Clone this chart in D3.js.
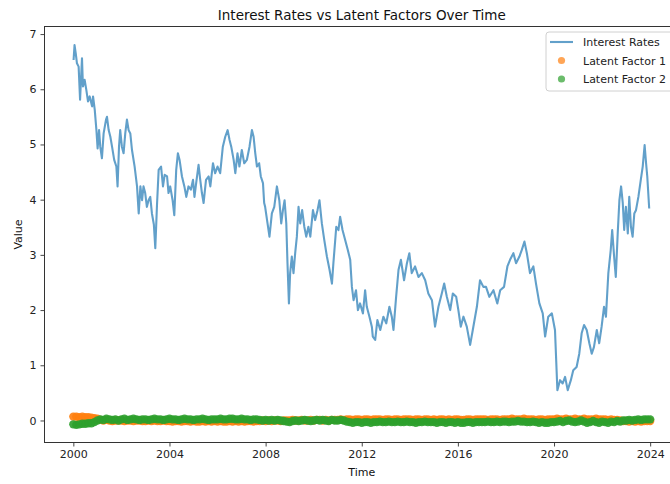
<!DOCTYPE html>
<html>
<head>
<meta charset="utf-8">
<script src="https://cdn.jsdelivr.net/npm/d3@7"></script>
<style>
  html, body { margin: 0; padding: 0; background: #fff; }
  svg { display: block; font-family: "DejaVu Sans", sans-serif; }
</style>
</head>
<body>
<svg id="chart" width="670" height="484"></svg>
<script>
// Interest rate series: time (decimal year) and rate
const rateTime = [
  2000.01,2000.05,2000.10,2000.15,2000.22,2000.28,2000.33,2000.36,2000.40,2000.47,
  2000.54,2000.61,2000.68,2000.78,2000.82,2000.89,2000.96,2001.01,2001.07,2001.12,
  2001.19,2001.26,2001.36,2001.40,2001.47,2001.54,2001.61,2001.70,2001.79,2001.84,
  2001.90,2001.95,2002.02,2002.09,2002.16,2002.23,2002.30,2002.37,2002.44,2002.55,
  2002.65,2002.72,2002.79,2002.86,2002.92,2002.99,2003.06,2003.13,2003.20,2003.27,
  2003.35,2003.41,2003.48,2003.55,2003.65,2003.73,2003.80,2003.90,2003.96,2004.03,
  2004.13,2004.20,2004.28,2004.35,2004.42,2004.52,2004.62,2004.70,2004.79,2004.89,
  2004.98,2005.04,2005.11,2005.21,2005.28,2005.35,2005.42,2005.52,2005.63,2005.70,
  2005.81,2005.90,2006.00,2006.11,2006.22,2006.32,2006.42,2006.50,2006.57,2006.67,
  2006.74,2006.83,2006.91,2007.01,2007.11,2007.22,2007.33,2007.43,2007.50,2007.57,
  2007.64,2007.73,2007.80,2007.89,2007.94,2007.98,2008.08,2008.16,2008.26,2008.36,
  2008.47,2008.57,2008.65,2008.72,2008.79,2008.86,2008.91,2008.97,2009.02,2009.09,
  2009.16,2009.23,2009.30,2009.37,2009.44,2009.52,2009.61,2009.69,2009.78,2009.86,
  2009.97,2010.06,2010.16,2010.24,2010.34,2010.44,2010.55,2010.66,2010.76,2010.82,
  2010.94,2011.03,2011.10,2011.20,2011.31,2011.42,2011.52,2011.59,2011.66,2011.76,
  2011.84,2011.93,2012.05,2012.14,2012.21,2012.32,2012.42,2012.46,2012.56,2012.65,
  2012.77,2012.90,2013.02,2013.15,2013.25,2013.32,2013.43,2013.53,2013.63,2013.76,
  2013.88,2013.98,2014.08,2014.22,2014.36,2014.50,2014.64,2014.77,2014.92,2015.05,
  2015.19,2015.33,2015.43,2015.54,2015.68,2015.79,2015.93,2016.02,2016.12,2016.23,
  2016.37,2016.51,2016.62,2016.79,2016.92,2017.06,2017.17,2017.31,2017.48,2017.64,
  2017.76,2017.92,2018.06,2018.17,2018.31,2018.42,2018.56,2018.66,2018.77,2018.87,
  2019.00,2019.14,2019.25,2019.39,2019.53,2019.63,2019.76,2019.91,2020.04,2020.14,
  2020.25,2020.36,2020.46,2020.57,2020.70,2020.80,2020.94,2021.05,2021.15,2021.25,
  2021.36,2021.47,2021.57,2021.66,2021.78,2021.88,2021.98,2022.08,2022.16,2022.26,
  2022.36,2022.42,2022.50,2022.57,2022.65,2022.72,2022.79,2022.86,2022.92,2022.99,
  2023.07,2023.13,2023.20,2023.27,2023.34,2023.41,2023.51,2023.61,2023.69,2023.77,
  2023.83,2023.88,2023.96
];
const rateValue = [
  6.53,6.80,6.65,6.47,6.41,5.81,6.29,6.56,6.05,6.17,
  5.99,5.78,5.87,5.69,5.87,5.63,5.26,4.93,5.26,4.96,
  4.75,5.20,5.45,5.50,5.26,5.14,4.96,4.72,4.60,4.24,
  4.96,5.26,4.96,4.84,5.20,5.45,5.26,5.20,4.90,4.60,
  4.24,3.75,4.24,3.99,4.24,4.12,3.87,3.99,4.05,3.75,
  3.55,3.12,3.90,4.54,4.60,4.24,4.45,4.42,4.12,4.24,
  3.99,3.72,4.54,4.84,4.72,4.42,4.24,4.05,4.24,4.18,
  4.36,4.05,4.30,4.63,4.36,4.12,3.94,4.36,4.42,4.24,
  4.66,4.48,4.60,4.48,4.96,5.14,5.26,5.08,4.96,4.72,
  4.48,4.84,4.60,4.90,4.66,4.72,4.96,5.26,5.14,4.84,
  4.60,4.66,4.42,4.30,3.94,3.87,3.57,3.33,3.75,3.87,
  4.24,3.99,3.57,3.81,3.99,3.57,2.85,2.12,2.67,2.97,
  2.67,3.03,3.33,3.87,3.57,3.81,3.51,3.33,3.51,3.33,
  3.81,3.63,3.81,3.99,3.57,3.27,2.97,2.73,2.48,2.85,
  3.51,3.45,3.69,3.45,3.27,3.09,2.91,2.42,2.18,2.36,
  2.00,2.12,1.94,2.36,2.06,1.88,1.70,1.52,1.46,1.82,
  1.64,1.88,1.76,2.06,1.88,1.64,2.24,2.73,2.91,2.54,
  2.85,3.03,2.67,2.79,2.60,2.67,2.54,2.30,2.18,1.70,
  2.06,2.30,2.48,2.24,2.00,2.30,2.24,2.00,1.70,1.88,
  1.70,1.37,1.64,2.06,2.54,2.42,2.42,2.24,2.36,2.12,
  2.36,2.42,2.79,2.91,3.03,2.85,2.97,3.09,3.24,3.03,
  2.67,2.79,2.48,2.12,1.94,1.52,1.88,1.94,1.64,0.55,
  0.73,0.67,0.79,0.55,0.73,0.91,0.97,1.21,1.58,1.73,
  1.64,1.40,1.21,1.33,1.64,1.40,1.70,2.06,1.88,2.67,
  3.09,3.45,2.97,2.60,3.39,3.99,4.24,3.94,3.45,3.87,
  3.39,4.05,3.51,3.33,3.75,3.81,4.05,4.36,4.60,4.99,
  4.66,4.42,3.84
];

// Latent factors, sampled every eighth of a year from 2000 to 2024
const latentStartYear = 2000;
const latentStepYears = 0.125;
const latentFactor1 = [
  0.07,0.07,0.06,0.07,0.06,0.06,0.05,0.04,
  0.03,0.01,0.00,0.01,0.00,-0.01,0.00,0.00,
  0.00,-0.01,0.00,0.00,-0.01,0.00,0.00,-0.01,
  -0.01,0.00,-0.01,0.00,-0.01,-0.01,0.00,-0.01,
  -0.01,-0.02,-0.01,-0.01,-0.02,-0.01,-0.01,-0.02,
  -0.01,-0.02,-0.02,-0.01,-0.02,-0.01,-0.02,-0.01,
  -0.02,-0.01,-0.02,-0.02,-0.01,-0.02,-0.01,-0.02,
  -0.01,-0.02,-0.01,-0.01,-0.02,-0.01,-0.01,0.00,
  -0.01,0.00,-0.01,0.00,0.00,-0.01,0.00,0.00,
  0.00,0.01,0.00,0.00,0.01,0.00,0.00,0.01,
  0.00,0.01,0.01,0.00,0.01,0.00,0.01,0.01,
  0.01,0.02,0.01,0.02,0.02,0.01,0.02,0.02,
  0.01,0.02,0.02,0.01,0.02,0.02,0.02,0.01,
  0.02,0.02,0.01,0.02,0.02,0.01,0.02,0.02,
  0.02,0.01,0.02,0.02,0.01,0.02,0.02,0.01,
  0.02,0.01,0.02,0.02,0.01,0.02,0.01,0.02,
  0.02,0.01,0.01,0.02,0.02,0.01,0.02,0.02,
  0.02,0.02,0.01,0.02,0.02,0.02,0.01,0.02,
  0.02,0.02,0.03,0.02,0.02,0.02,0.03,0.02,
  0.02,0.02,0.01,0.02,0.02,0.01,0.02,0.02,
  0.02,0.03,0.02,0.02,0.03,0.02,0.02,0.03,
  0.02,0.02,0.03,0.02,0.02,0.02,0.03,0.02,
  0.02,0.02,0.01,0.02,0.01,0.01,0.00,-0.01,
  -0.01,-0.02,-0.01,-0.02,-0.01,-0.02,-0.01,-0.01,
  -0.01
];
const latentFactor2 = [
  -0.07,-0.08,-0.07,-0.06,-0.06,-0.05,-0.05,-0.03,
  0.00,0.02,0.01,0.03,0.02,0.01,0.02,0.00,
  0.02,0.03,0.01,0.02,0.03,0.02,0.01,0.02,
  0.02,0.01,0.02,0.03,0.02,0.02,0.01,0.02,
  0.03,0.02,0.02,0.01,0.02,0.03,0.02,0.02,
  0.01,0.02,0.02,0.03,0.02,0.01,0.02,0.02,
  0.02,0.03,0.02,0.02,0.03,0.03,0.02,0.02,
  0.03,0.02,0.02,0.01,0.02,0.02,0.01,0.00,
  0.01,0.00,0.01,0.00,0.01,0.00,-0.01,-0.02,
  -0.03,-0.01,0.00,-0.01,0.00,0.01,0.00,-0.01,
  0.00,0.01,0.00,0.01,0.00,-0.01,0.01,0.00,
  0.00,0.01,0.00,-0.02,-0.03,-0.04,-0.03,-0.03,
  -0.04,-0.03,-0.03,-0.04,-0.03,-0.03,-0.02,-0.03,
  -0.03,-0.02,-0.03,-0.03,-0.02,-0.03,-0.03,-0.02,
  -0.03,-0.03,-0.04,-0.03,-0.03,-0.02,-0.03,-0.03,
  -0.03,-0.04,-0.03,-0.03,-0.04,-0.03,-0.03,-0.04,
  -0.03,-0.04,-0.04,-0.03,-0.03,-0.04,-0.03,-0.03,
  -0.03,-0.03,-0.02,-0.03,-0.03,-0.02,-0.03,-0.02,
  -0.02,-0.03,-0.02,-0.02,-0.01,-0.02,-0.02,-0.03,
  -0.03,-0.02,-0.03,-0.04,-0.03,-0.04,-0.04,-0.03,
  -0.03,-0.02,-0.01,-0.03,-0.01,0.00,-0.02,-0.03,
  -0.02,0.00,-0.02,-0.04,-0.03,-0.01,-0.03,-0.04,
  -0.02,-0.03,-0.04,-0.02,-0.03,-0.01,-0.02,0.00,
  0.00,0.01,0.00,0.01,0.02,0.01,0.02,0.02,
  0.02
];

const xTickLabels = ["2000","2004","2008","2012","2016","2020","2024"];
const yTickLabels = ["0","1","2","3","4","5","6","7"];
const seriesNames = ["Interest Rates","Latent Factor 1","Latent Factor 2"];
const seriesColors = ["#1f77b4","#ff7f0e","#2ca02c"];

const svg = d3.select("#chart");
const plot = { left: 44.5, right: 679, top: 26.5, bottom: 442.5 };

const x = d3.scaleLinear().domain([1998.8, 2025.2]).range([plot.left, plot.right]);
const y = d3.scaleLinear().domain([-0.399, 7.137]).range([plot.bottom, plot.top]);

const clipId = "plot-clip";
svg.append("defs").append("clipPath").attr("id", clipId)
  .append("rect").attr("x", plot.left).attr("y", plot.top)
  .attr("width", plot.right - plot.left).attr("height", plot.bottom - plot.top);

const marks = svg.append("g").attr("clip-path", `url(#${clipId})`);

// Interest rate line
const rates = rateTime.map((t, i) => ({ t, v: rateValue[i] }));
marks.append("path")
  .datum(rates)
  .attr("fill", "none")
  .attr("stroke", seriesColors[0])
  .attr("stroke-opacity", 0.7)
  .attr("stroke-width", 2.1)
  .attr("stroke-linejoin", "round")
  .attr("d", d3.line().x(d => x(d.t)).y(d => y(d.v)));

// Latent factor scatter
function scatter(values, color) {
  const pts = values.map((v, i) => ({ t: latentStartYear + i * latentStepYears, v }));
  marks.append("g").selectAll("circle").data(pts).join("circle")
    .attr("cx", d => x(d.t))
    .attr("cy", d => y(d.v))
    .attr("r", 4.2)
    .attr("fill", color)
    .attr("fill-opacity", 0.9);
}
scatter(latentFactor1, seriesColors[1]);
scatter(latentFactor2, seriesColors[2]);

// Axes
const xAxis = d3.axisBottom(x)
  .tickValues(xTickLabels.map(Number))
  .tickFormat(d => String(d))
  .tickSizeOuter(0).tickSize(4).tickPadding(4);
const yAxis = d3.axisLeft(y)
  .tickValues(yTickLabels.map(Number))
  .tickFormat(d => String(d))
  .tickSizeOuter(0).tickSize(4).tickPadding(4);

const gx = svg.append("g").attr("transform", `translate(0,${plot.bottom})`).call(xAxis);
const gy = svg.append("g").attr("transform", `translate(${plot.left},0)`).call(yAxis);
[gx, gy].forEach(g => {
  g.select(".domain").remove();
  g.selectAll(".tick line").attr("stroke", "#333").attr("stroke-width", 0.9);
  g.selectAll(".tick text").attr("fill", "#222").attr("font-size", 11)
    .attr("font-family", "DejaVu Sans, sans-serif");
});

// Frame
svg.append("rect")
  .attr("x", plot.left).attr("y", plot.top)
  .attr("width", plot.right - plot.left).attr("height", plot.bottom - plot.top)
  .attr("fill", "none").attr("stroke", "#333").attr("stroke-width", 1);

// Titles
svg.append("text")
  .attr("x", (plot.left + plot.right) / 2).attr("y", 19.5)
  .attr("text-anchor", "middle").attr("font-size", 13.5).attr("fill", "#111")
  .text("Interest Rates vs Latent Factors Over Time");
svg.append("text")
  .attr("x", (plot.left + plot.right) / 2).attr("y", 476)
  .attr("text-anchor", "middle").attr("font-size", 11).attr("fill", "#111")
  .text("Time");
svg.append("text")
  .attr("transform", `translate(22,${(plot.top + plot.bottom) / 2}) rotate(-90)`)
  .attr("text-anchor", "middle").attr("font-size", 11).attr("fill", "#111")
  .text("Value");

// Legend
const lg = svg.append("g").attr("transform", "translate(546,32)");
lg.append("rect")
  .attr("x", 0).attr("y", 0).attr("width", 128).attr("height", 59)
  .attr("rx", 3).attr("fill", "#fff").attr("fill-opacity", 0.8)
  .attr("stroke", "#d0d0d0").attr("stroke-width", 1);
seriesNames.forEach((name, i) => {
  const cy = 10 + i * 18.5;
  if (i === 0) {
    lg.append("line").attr("x1", 4).attr("x2", 27).attr("y1", cy).attr("y2", cy)
      .attr("stroke", seriesColors[0]).attr("stroke-opacity", 0.7).attr("stroke-width", 2.1);
  } else {
    lg.append("circle").attr("cx", 15.5).attr("cy", cy).attr("r", 3.6)
      .attr("fill", seriesColors[i]).attr("fill-opacity", 0.7);
  }
  lg.append("text").attr("x", 37).attr("y", cy + 4)
    .attr("font-size", 11).attr("fill", "#222").text(name);
});
</script>
</body>
</html>
